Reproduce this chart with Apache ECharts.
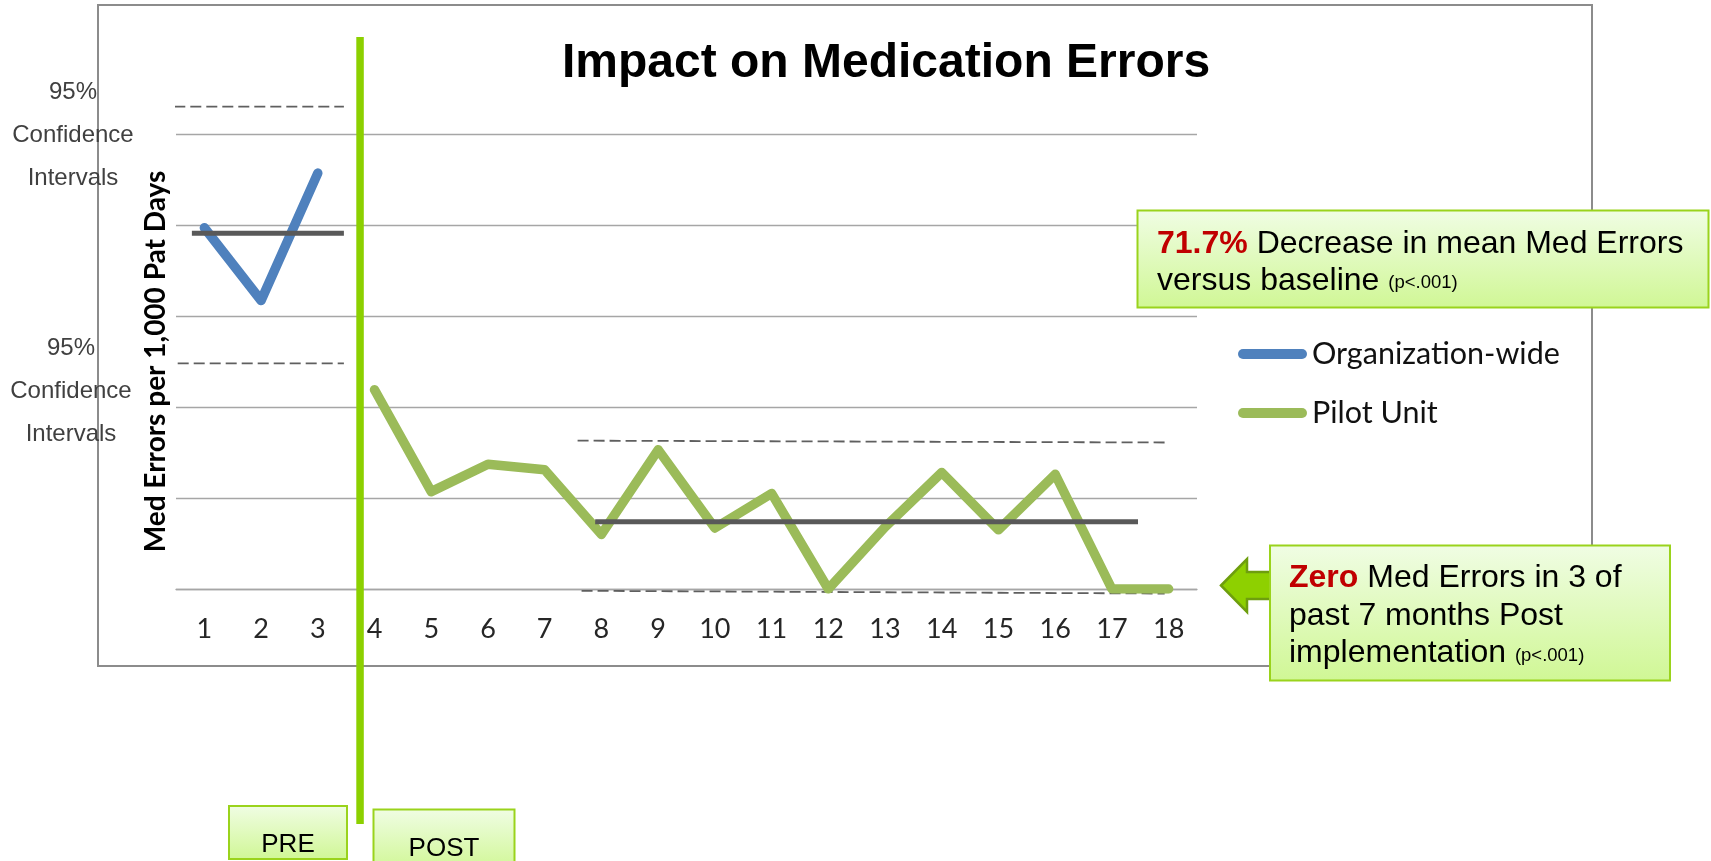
<!DOCTYPE html>
<html>
<head>
<meta charset="utf-8">
<script src="https://cdn.jsdelivr.net/npm/echarts@6/dist/echarts.min.js"></script>
<style>
html,body{margin:0;padding:0;background:#ffffff;}
#chart{width:1711px;height:861px;}
</style>
</head>
<body>
<div id="chart"></div>
<script>
// ---------- data ----------
const months = ['1','2','3','4','5','6','7','8','9','10','11','12','13','14','15','16','17','18'];
const orgWide = [3.97, 3.17, 4.57, null, null, null, null, null, null, null, null, null, null, null, null, null, null, null];
const pilotUnit = [null, null, null, 2.19, 1.07, 1.37, 1.31, 0.60, 1.53, 0.67, 1.05, 0.00, 0.68, 1.28, 0.65, 1.26, 0.00, 0.00];
// control limits (values) : [start, end]
const preUpperCI = [5.30, 5.30];
const preMean = [3.91, 3.91];
const preLowerCI = [2.48, 2.48];
const postUpperCI = [1.63, 1.61];
const postMean = [0.74, 0.74];
const postLowerCI = [-0.02, -0.05];
// month spans of the limit lines (in month units)
const preUpperSpan = [0.47, 3.46];
const preMeanSpan = [0.78, 3.46];
const preLowerSpan = [0.53, 3.46];
const postUpperSpan = [7.58, 17.93];
const postMeanSpan = [7.89, 17.46];
const postLowerSpan = [7.65, 17.93];
const yTicks = [0, 5, 1];

// ---------- styles ----------
const BLUE = '#4F81BD', GREEN = '#9BBB59', MEAN = '#595959', DASH = '#5f5f5f';
const ARIAL = "'Liberation Sans', Arial, sans-serif";
const CAL = "Lato, 'Open Sans', sans-serif";
const PILL = 'path://M5,0 L64,0 A5,5 0 0 1 64,10 L5,10 A5,5 0 0 1 5,0 Z';

function limitSeries(span, vals, kind) {
  const dashed = kind === 'ci';
  return {
    type: 'line', xAxisIndex: 1, yAxisIndex: 0, silent: true, clip: false,
    showSymbol: false, symbol: 'none', z: dashed ? 3 : 6,
    data: [[span[0], vals[0]], [span[1], vals[1]]],
    lineStyle: dashed ? {color: DASH, width: 1.8, type: [11, 5]} : {color: MEAN, width: 5},
    emphasis: {disabled: true}
  };
}

const boxFill = {type:'linear', x:0, y:0, x2:0, y2:1, colorStops:[{offset:0, color:'#F0FDE4'},{offset:1, color:'#D0F795'}]};
const boxStroke = '#9AD31C';
const sideFont = "24px 'Liberation Sans', Arial";

const chart = echarts.init(document.getElementById('chart'), null, {renderer:'canvas'});
chart.setOption({
  animation: false,
  backgroundColor: '#ffffff',
  title: {
    text: 'Impact on Medication Errors', left: 562, top: 39.5, padding: 0,
    textStyle: {fontFamily: ARIAL, fontWeight: 'bold', fontSize: 48, lineHeight: 48, color: '#000'}
  },
  legend: {
    orient: 'vertical', left: 1238, top: 336, padding: 0,
    data: ['Organization-wide', 'Pilot Unit'],
    icon: PILL, itemWidth: 69, itemHeight: 11, itemGap: 23,
    textStyle: {fontFamily: CAL, fontSize: 30.5, color: '#111', lineHeight: 36}
  },
  grid: {left: 176, right: 514, top: 134, bottom: 272, containLabel: false, outerBoundsMode: 'none'},
  xAxis: [
    {
      type: 'category', data: months, boundaryGap: true,
      axisLine: {show: true, lineStyle: {color: '#a6a6a6', width: 1.3}},
      axisTick: {show: false},
      axisLabel: {margin: 27, fontFamily: CAL, fontSize: 27, color: '#262626'},
      splitLine: {show: false}
    },
    {type: 'value', min: 0.5, max: 18.5, show: false}
  ],
  yAxis: {
    type: 'value', min: yTicks[0], max: yTicks[1], interval: yTicks[2],
    axisLine: {show: false}, axisTick: {show: false}, axisLabel: {show: false},
    splitLine: {lineStyle: {color: '#a6a6a6', width: 1.3}},
    name: 'Med Errors per 1,000 Pat Days', nameLocation: 'middle', nameRotate: 90, nameGap: 6,
    nameTextStyle: {fontFamily: CAL, fontWeight: 'bold', fontSize: 28, color: '#000'}
  },
  series: [
    limitSeries(preUpperSpan, preUpperCI, 'ci'),
    limitSeries(preLowerSpan, preLowerCI, 'ci'),
    limitSeries(postUpperSpan, postUpperCI, 'ci'),
    limitSeries(postLowerSpan, postLowerCI, 'ci'),
    {
      name: 'Organization-wide', type: 'line', data: orgWide, showSymbol: false, symbol: 'none',
      connectNulls: false, z: 4, color: BLUE,
      lineStyle: {color: BLUE, width: 9.5, cap: 'round', join: 'round'}
    },
    {
      name: 'Pilot Unit', type: 'line', data: pilotUnit, showSymbol: false, symbol: 'none',
      connectNulls: false, z: 4, color: GREEN,
      lineStyle: {color: GREEN, width: 9.5, cap: 'round', join: 'round'}
    },
    limitSeries(preMeanSpan, preMean, 'mean'),
    limitSeries(postMeanSpan, postMean, 'mean')
  ],
  graphic: [
    {type: 'rect', z: -10, silent: true, shape: {x: 98, y: 5, width: 1494, height: 661},
     style: {fill: null, stroke: '#8c8c8c', lineWidth: 2}},
    // side labels
    {type: 'text', z: 50, x: 73, y: 92, style: {text: '95%', font: sideFont, fill: '#404040', align: 'center', verticalAlign: 'middle'}},
    {type: 'text', z: 50, x: 73, y: 135, style: {text: 'Confidence', font: sideFont, fill: '#404040', align: 'center', verticalAlign: 'middle'}},
    {type: 'text', z: 50, x: 73, y: 178, style: {text: 'Intervals', font: sideFont, fill: '#404040', align: 'center', verticalAlign: 'middle'}},
    {type: 'text', z: 50, x: 71, y: 348, style: {text: '95%', font: sideFont, fill: '#404040', align: 'center', verticalAlign: 'middle'}},
    {type: 'text', z: 50, x: 71, y: 391, style: {text: 'Confidence', font: sideFont, fill: '#404040', align: 'center', verticalAlign: 'middle'}},
    {type: 'text', z: 50, x: 71, y: 434, style: {text: 'Intervals', font: sideFont, fill: '#404040', align: 'center', verticalAlign: 'middle'}},
    // PRE / POST divider
    {type: 'rect', z: 60, silent: true, shape: {x: 356.3, y: 37, width: 7.5, height: 787}, style: {fill: '#8CD000'}},
    {type: 'rect', z: 60, shape: {x: 229, y: 806, width: 118, height: 53}, style: {fill: boxFill, stroke: boxStroke, lineWidth: 2}},
    {type: 'text', z: 61, x: 288, y: 845, style: {text: 'PRE', font: "26px 'Liberation Sans', Arial", fill: '#000', align: 'center', verticalAlign: 'middle'}},
    {type: 'rect', z: 60, shape: {x: 373.5, y: 809.5, width: 141, height: 60}, style: {fill: boxFill, stroke: boxStroke, lineWidth: 2}},
    {type: 'text', z: 61, x: 444, y: 849, style: {text: 'POST', font: "26px 'Liberation Sans', Arial", fill: '#000', align: 'center', verticalAlign: 'middle'}},
    // callout 1
    {type: 'rect', z: 60, shape: {x: 1137.5, y: 210.5, width: 571, height: 97}, style: {fill: boxFill, stroke: boxStroke, lineWidth: 2}},
    {type: 'text', z: 61, x: 1157, y: 225.7, style: {
      text: '{r|71.7%} Decrease in mean Med Errors\nversus baseline {s|(p<.001)}',
      fontFamily: ARIAL, fontSize: 32, lineHeight: 36.7, fill: '#000', verticalAlign: 'top', align: 'left',
      rich: {
        r: {fontFamily: ARIAL, fontSize: 32, fontWeight: 'bold', fill: '#C00000', lineHeight: 36.7},
        s: {fontFamily: ARIAL, fontSize: 18.5, fill: '#000', lineHeight: 22, verticalAlign: 'bottom', padding: [0, 0, 7, 0]}
      }
    }},
    // callout 2 arrow
    {type: 'polygon', z: 59, shape: {points: [[1221, 585.5], [1247, 559], [1247, 572], [1274, 572], [1274, 599], [1247, 599], [1247, 612]]},
     style: {fill: '#8ED000', stroke: '#6E9E0E', lineWidth: 2.5}},
    {type: 'rect', z: 60, shape: {x: 1270, y: 545.5, width: 400, height: 135}, style: {fill: boxFill, stroke: boxStroke, lineWidth: 2}},
    {type: 'text', z: 61, x: 1289, y: 559.8, style: {
      text: '{r|Zero} Med Errors in 3 of\npast 7 months Post\nimplementation {s|(p<.001)}',
      fontFamily: ARIAL, fontSize: 32, lineHeight: 37.4, fill: '#000', verticalAlign: 'top', align: 'left',
      rich: {
        r: {fontFamily: ARIAL, fontSize: 32, fontWeight: 'bold', fill: '#C00000', lineHeight: 37.4},
        s: {fontFamily: ARIAL, fontSize: 18.5, fill: '#000', lineHeight: 22, verticalAlign: 'bottom', padding: [0, 0, 7, 0]}
      }
    }}
  ]
});
</script>
</body>
</html>
